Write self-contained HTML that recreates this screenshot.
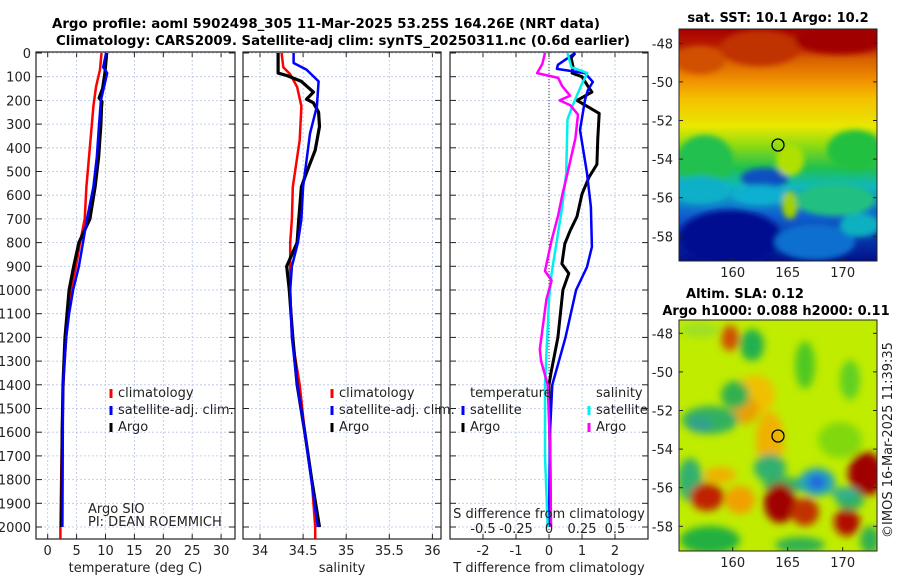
<!DOCTYPE html>
<html><head><meta charset="utf-8">
<style>
html,body{margin:0;padding:0;background:#fff;}
svg{display:block;font-family:"DejaVu Sans","Liberation Sans",sans-serif;}
.t{font-size:13px;fill:#222;}
.b{font-size:13px;font-weight:bold;fill:#000;}
</style></head>
<body>
<svg id="fig" width="900" height="580" viewBox="0 0 900 580" xmlns="http://www.w3.org/2000/svg">
<defs>
<filter id="blur3" x="-20%" y="-20%" width="140%" height="140%"><feGaussianBlur stdDeviation="3"/></filter>
<filter id="blur4" x="-30%" y="-30%" width="160%" height="160%"><feGaussianBlur stdDeviation="4"/></filter>
<linearGradient id="sstgrad" x1="0" y1="0" x2="0" y2="1">
<stop offset="0" stop-color="#a50000"/><stop offset="0.07" stop-color="#b81a00"/>
<stop offset="0.13" stop-color="#d86000"/><stop offset="0.22" stop-color="#f09000"/>
<stop offset="0.30" stop-color="#f5c000"/><stop offset="0.42" stop-color="#e8e800"/>
<stop offset="0.50" stop-color="#90dc10"/><stop offset="0.60" stop-color="#20c050"/>
<stop offset="0.68" stop-color="#10b8c0"/><stop offset="0.80" stop-color="#1060d0"/>
<stop offset="1" stop-color="#00108a"/>
</linearGradient>
<clipPath id="clipSST"><rect x="679" y="29" width="198" height="232"/></clipPath>
<clipPath id="clipSLA"><rect x="679" y="320" width="198" height="231"/></clipPath>
</defs>
<text class="b" x="52" y="28" textLength="548" lengthAdjust="spacingAndGlyphs">Argo profile: aoml 5902498_305 11-Mar-2025 53.25S 164.26E (NRT data)</text>
<text class="b" x="56" y="45" textLength="574" lengthAdjust="spacingAndGlyphs">Climatology: CARS2009. Satellite-adj clim: synTS_20250311.nc (0.6d earlier)</text>
<g id="panels"></g>
<g id="maps">
<text class="b" x="778" y="22" text-anchor="middle">sat. SST: 10.1 Argo: 10.2</text>
<g clip-path="url(#clipSST)">
<rect x="679" y="29" width="198" height="232" fill="url(#sstgrad)"/>
<g filter="url(#blur3)">
<ellipse cx="705" cy="160" rx="28" ry="25" fill="#20c050"/>
<ellipse cx="700" cy="190" rx="30" ry="14" fill="#10b0c8"/>
<ellipse cx="765" cy="178" rx="24" ry="10" fill="#1050c0"/>
<ellipse cx="760" cy="195" rx="28" ry="10" fill="#10b0d0"/>
<ellipse cx="790" cy="160" rx="14" ry="16" fill="#b0e000"/>
<ellipse cx="790" cy="205" rx="8" ry="14" fill="#a0d000"/>
<ellipse cx="855" cy="150" rx="28" ry="20" fill="#20c040"/>
<ellipse cx="835" cy="200" rx="40" ry="16" fill="#20c080"/>
<ellipse cx="730" cy="238" rx="52" ry="28" fill="#001090"/>
<ellipse cx="815" cy="242" rx="40" ry="18" fill="#1070d0"/>
<ellipse cx="860" cy="225" rx="20" ry="12" fill="#10b0c0"/>
<ellipse cx="760" cy="48" rx="40" ry="18" fill="#c03000"/>
<ellipse cx="840" cy="40" rx="45" ry="14" fill="#a00000"/>
<ellipse cx="700" cy="60" rx="25" ry="14" fill="#d05000"/>
</g>
</g>
<rect x="679" y="29" width="198" height="232" fill="none" stroke="#222" stroke-width="1"/>
<circle cx="778" cy="145" r="6" fill="none" stroke="#000" stroke-width="1.3"/>
<text class="b" x="745" y="298" text-anchor="middle">Altim. SLA: 0.12</text>
<text class="b" x="776" y="315" text-anchor="middle">Argo h1000: 0.088 h2000: 0.11</text>
<g clip-path="url(#clipSLA)">
<rect x="679" y="320" width="198" height="231" fill="#c0ec00"/>
<g filter="url(#blur4)">
<ellipse cx="700" cy="330" rx="20" ry="8" fill="#a0e020"/>
<ellipse cx="752" cy="345" rx="12" ry="16" fill="#20b050"/>
<ellipse cx="730" cy="338" rx="9" ry="13" fill="#d05000"/>
<ellipse cx="755" cy="395" rx="20" ry="20" fill="#f0c000"/>
<ellipse cx="770" cy="440" rx="14" ry="28" fill="#f0b000"/>
<ellipse cx="745" cy="410" rx="14" ry="14" fill="#e8a000"/>
<ellipse cx="735" cy="395" rx="14" ry="14" fill="#30b050"/>
<ellipse cx="710" cy="420" rx="28" ry="14" fill="#30b060"/>
<ellipse cx="700" cy="425" rx="12" ry="8" fill="#30a090"/>
<ellipse cx="805" cy="365" rx="10" ry="24" fill="#50c820"/>
<ellipse cx="850" cy="380" rx="10" ry="20" fill="#60d020"/>
<ellipse cx="840" cy="440" rx="22" ry="18" fill="#80d810"/>
<ellipse cx="690" cy="480" rx="12" ry="22" fill="#30b070"/>
<ellipse cx="770" cy="468" rx="16" ry="14" fill="#30b070"/>
<ellipse cx="785" cy="485" rx="22" ry="8" fill="#30b060"/>
<ellipse cx="720" cy="475" rx="16" ry="8" fill="#f0b000"/>
<ellipse cx="740" cy="500" rx="15" ry="14" fill="#f0a000"/>
<ellipse cx="707" cy="497" rx="17" ry="14" fill="#c02000"/>
<ellipse cx="780" cy="503" rx="16" ry="20" fill="#a00000"/>
<ellipse cx="805" cy="512" rx="14" ry="14" fill="#c03000"/>
<ellipse cx="847" cy="522" rx="13" ry="14" fill="#b01000"/>
<ellipse cx="866" cy="474" rx="18" ry="22" fill="#a00000"/>
<ellipse cx="850" cy="500" rx="14" ry="10" fill="#30b060"/>
<ellipse cx="817" cy="482" rx="18" ry="14" fill="#20a0c0"/>
<ellipse cx="817" cy="482" rx="8" ry="7" fill="#2060e0"/>
<ellipse cx="845" cy="493" rx="14" ry="6" fill="#30b090"/>
<ellipse cx="710" cy="540" rx="30" ry="14" fill="#20b040"/>
<ellipse cx="800" cy="545" rx="25" ry="8" fill="#30b050"/>
<ellipse cx="870" cy="540" rx="10" ry="14" fill="#30b050"/>
</g>
</g>
<rect x="679" y="320" width="198" height="231" fill="none" stroke="#222" stroke-width="1"/>
<circle cx="778" cy="436" r="6" fill="none" stroke="#000" stroke-width="1.3"/>
<text class="t" transform="translate(892,440) rotate(-90)" text-anchor="middle">©IMOS 16-Mar-2025 11:39:35</text>
</g>
</svg>
<script>
// ---- data ----
const pressureTicks = [0,100,200,300,400,500,600,700,800,900,1000,1100,1200,1300,1400,1500,1600,1700,1800,1900,2000];
const tempTicks = [0,5,10,15,20,25,30];
const salTicks = [34,34.5,35,35.5,36];
const salTickLabels = ["34","34.5","35","35.5","36"];
const tdiffTicks = [-2,-1,0,1,2];
const sdiffTickLabels = ["-0.5","-0.25","0","0.25","0.5"];
const sdiffTicks = [-0.5,-0.25,0,0.25,0.5];

const climTempP = [0,70,143,225,367,565,700,800,900,1000,1200,1400,1600,2000,2050];
const climTempV = [9.3,9.05,8.35,7.9,7.4,6.7,6.4,5.6,4.9,4.0,3.2,2.7,2.45,2.2,2.2];
const satTempP = [0,60,85,200,300,440,565,700,800,900,1000,1100,1200,1400,2000];
const satTempV = [10.1,9.6,10.3,9.2,8.9,8.5,7.9,6.8,6.1,5.4,4.4,3.7,3.2,2.65,2.55];
const argoTempP = [0,85,150,190,205,230,300,440,565,700,800,900,1000,1200,1400,1600,2000];
const argoTempV = [10.2,9.9,9.5,8.9,9.4,9.3,9.2,8.8,8.2,7.3,5.4,4.5,3.7,3.0,2.65,2.5,2.4];

const climSalP = [0,60,90,143,225,367,565,700,800,900,1000,1200,1400,1600,1800,2000,2050];
const climSalV = [34.25,34.27,34.35,34.43,34.48,34.46,34.38,34.37,34.35,34.35,34.35,34.37,34.46,34.52,34.6,34.64,34.64];
const satSalP = [0,42,70,120,225,340,565,700,800,900,1000,1200,1400,1600,2000];
const satSalV = [34.39,34.39,34.54,34.68,34.66,34.58,34.5,34.48,34.44,34.37,34.35,34.37,34.43,34.52,34.67];
const argoSalP = [0,85,95,120,165,195,210,250,310,410,505,565,700,800,900,1000,1100,1200,1400,1600,1800,2000];
const argoSalV = [34.21,34.21,34.31,34.48,34.62,34.54,34.62,34.68,34.69,34.64,34.54,34.48,34.45,34.43,34.31,34.34,34.36,34.38,34.43,34.52,34.6,34.69];

const satTdP = [0,50,67,85,122,156,198,325,507,650,818,903,1000,1200,1400,1600,2000];
const satTdV = [0.79,0.27,0.24,1.09,1.33,1.18,1.09,0.94,1.15,1.27,1.3,1.15,0.82,0.5,0.1,0.03,0.0];
const argoTdP = [0,20,60,85,100,140,165,200,220,255,360,470,525,595,690,750,805,890,930,1000,1200,1350,1400,1700,2000];
const argoTdV = [0.79,0.67,0.73,0.7,1.0,1.18,1.3,0.85,1.09,1.52,1.48,1.45,1.21,1.0,0.85,0.64,0.48,0.39,0.6,0.42,0.27,0.06,0.0,0.03,0.05];
const satSdP = [0,60,85,130,220,280,507,650,790,930,1040,1400,1700,2000];
const satSdV = [0.14,0.17,0.29,0.25,0.18,0.14,0.13,0.1,0.06,0.02,0.0,-0.03,-0.03,-0.01];
const argoSdP = [0,45,85,105,140,180,200,220,260,360,507,600,685,790,920,960,1040,1250,1300,1400,1700,2000];
const argoSdV = [-0.03,-0.05,-0.09,0.07,0.1,0.16,0.08,0.16,0.22,0.2,0.14,0.1,0.07,0.02,-0.03,0.02,-0.02,-0.07,-0.06,-0.01,0.01,0.015];

// ---- axes ----
const Y0 = 53, PY = 0.237;
function yP(p){ return Y0 + p*PY; }
function xT(v){ return 47.7 + v*5.78; }
function xS(v){ return 260 + (v-34)*86.2; }
function xTd(v){ return 549 + v*33; }
function xSd(v){ return 549 + v*132; }

const NS = "http://www.w3.org/2000/svg";
const root = document.getElementById('panels');
function mk(tag, attrs, parent){
  const e = document.createElementNS(NS, tag);
  for (const k in attrs) e.setAttribute(k, attrs[k]);
  (parent||root).appendChild(e);
  return e;
}
const TOP = 52, BOT = 539;
const panels = [
  {x0:36, x1:235, name:'temperature-panel', gx: tempTicks.map(xT), lab: tempTicks.map(String), lx: tempTicks.map(xT), xl:'temperature (deg C)'},
  {x0:243, x1:441, name:'salinity-panel', gx: salTicks.map(xS), lab: salTickLabels, lx: salTicks.map(xS), xl:'salinity'},
  {x0:450, x1:648, name:'difference-panel', gx: tdiffTicks.map(xTd), lab: tdiffTicks.map(String), lx: tdiffTicks.map(xTd), xl:'T difference from climatology'}
];
panels.forEach((pn, i) => {
  const g = mk('g', {});
  
  
  pn.g = g;
  pn.gx.forEach(x => {
    const l = mk('line', {x1:x, x2:x, y1:TOP, y2:BOT, stroke:'#b8c4e8', 'stroke-width':0.8, 'stroke-dasharray':'2,2'}, g);
    
    
    mk('line', {x1:x, x2:x, y1:BOT, y2:BOT-5, stroke:'#222'}, g);
    mk('line', {x1:x, x2:x, y1:TOP, y2:TOP+5, stroke:'#222'}, g);
  });
  pressureTicks.forEach(p => {
    const y = yP(p);
    const l = mk('line', {x1:pn.x0, x2:pn.x1, y1:y, y2:y, stroke:'#b8c4e8', 'stroke-width':0.8, 'stroke-dasharray':'2,2'}, g);
    
    
    mk('line', {x1:pn.x0, x2:pn.x0+6, y1:y, y2:y, stroke:'#222'}, g);
    mk('line', {x1:pn.x1, x2:pn.x1-6, y1:y, y2:y, stroke:'#222'}, g);
  });
  const fr = mk('rect', {x:pn.x0, y:TOP, width:pn.x1-pn.x0, height:BOT-TOP, fill:'none', stroke:'#222', 'stroke-width':1.2}, g);
  
  
  pn.lab.forEach((s, k) => {
    const t = mk('text', {x:pn.lx[k], y:555, 'text-anchor':'middle', class:'t'}, g);
    t.textContent = s;
    
    
  });
  const xl = mk('text', {x:(pn.x0+pn.x1)/2, y:572, 'text-anchor':'middle', class:'t'}, g);
  xl.textContent = pn.xl;
  
  
});
pressureTicks.forEach(p => {
  const t = mk('text', {x:31, y:yP(p)+5, 'text-anchor':'end', class:'t'});
  t.textContent = String(p);
  
  
});
const zl = mk('line', {x1:xTd(0), x2:xTd(0), y1:TOP, y2:BOT, stroke:'#333', 'stroke-width':1, 'stroke-dasharray':'1,2'}, panels[2].g);



function series(P, V, fx, color, w, name, parent){
  const d = P.map((p,k) => (k?'L':'M') + fx(V[k]).toFixed(1) + ',' + yP(p).toFixed(1)).join(' ');
  const e = mk('path', {d:d, fill:'none', stroke:color, 'stroke-width':w, 'stroke-linejoin':'round'}, parent);
  
  
}
series(climTempP, climTempV, xT, '#ff0000', 2.5, 'climatology-temperature-line', panels[0].g);
series(argoTempP, argoTempV, xT, '#000000', 3.2, 'argo-temperature-line', panels[0].g);
series(satTempP, satTempV, xT, '#0000ff', 2.5, 'satellite-temperature-line', panels[0].g);
series(climSalP, climSalV, xS, '#ff0000', 2.5, 'climatology-salinity-line', panels[1].g);
series(argoSalP, argoSalV, xS, '#000000', 3.2, 'argo-salinity-line', panels[1].g);
series(satSalP, satSalV, xS, '#0000ff', 2.5, 'satellite-salinity-line', panels[1].g);
series(argoTdP, argoTdV, xTd, '#000000', 3, 'argo-t-difference-line', panels[2].g);
series(satTdP, satTdV, xTd, '#0000ff', 2.5, 'satellite-t-difference-line', panels[2].g);
series(satSdP, satSdV, xSd, '#00f0f0', 2.5, 'satellite-s-difference-line', panels[2].g);
series(argoSdP, argoSdV, xSd, '#ff00ff', 2.5, 'argo-s-difference-line', panels[2].g);

function legendEntry(x, y, color, label, parent){
  const g = mk('g', {}, parent);
  
  
  if (color) mk('line', {x1:x, x2:x, y1:y-8, y2:y+1, stroke:color, 'stroke-width':3}, g);
  const t = mk('text', {x:x+7, y:y, class:'t'}, g);
  t.textContent = label;
}
[[111,'#ff0000','climatology'],[111,'#0000ff','satellite-adj. clim.'],[111,'#000','Argo']].forEach((e,k)=>legendEntry(e[0], 397+k*17, e[1], e[2], panels[0].g));
[[332,'#ff0000','climatology'],[332,'#0000ff','satellite-adj. clim.'],[332,'#000','Argo']].forEach((e,k)=>legendEntry(e[0], 397+k*17, e[1], e[2], panels[1].g));
legendEntry(463, 397, null, 'temperature', panels[2].g);
legendEntry(463, 414, '#0000ff', 'satellite', panels[2].g);
legendEntry(463, 431, '#000', 'Argo', panels[2].g);
legendEntry(589, 397, null, 'salinity', panels[2].g);
legendEntry(589, 414, '#00f0f0', 'satellite', panels[2].g);
legendEntry(589, 431, '#ff00ff', 'Argo', panels[2].g);

const sdt = mk('text', {x:549, y:518, 'text-anchor':'middle', class:'t'}, panels[2].g);
sdt.textContent = 'S difference from climatology';


sdiffTicks.forEach((v,k) => {
  const t = mk('text', {x:xSd(v), y:533, 'text-anchor':'middle', class:'t'}, panels[2].g);
  t.textContent = sdiffTickLabels[k];
  
  
});
const c1 = mk('text', {x:88, y:513, class:'t', 'font-size':'11'}, panels[0].g);
c1.textContent = 'Argo SIO';


const c2 = mk('text', {x:88, y:526, class:'t', 'font-size':'11'}, panels[0].g);
c2.textContent = 'PI: DEAN ROEMMICH';



const mapLat = [-48,-50,-52,-54,-56,-58];
const mapLon = [160,165,170];
const mapG = document.getElementById('maps');
[[43.3,19.3,261],[333.3,19.3,551]].forEach(m => {
  mapLat.forEach(la => {
    const y = m[0] + (-48-la)*m[1];
    mk('line', {x1:679, x2:683, y1:y, y2:y, stroke:'#222'}, mapG);
    mk('line', {x1:877, x2:873, y1:y, y2:y, stroke:'#222'}, mapG);
    const t = mk('text', {x:673, y:y+5, 'text-anchor':'end', class:'t'}, mapG);
    t.textContent = String(la);
    
    
  });
  mapLon.forEach(lo => {
    const x = 732.7 + (lo-160)*11;
    mk('line', {x1:x, x2:x, y1:m[2], y2:m[2]-4, stroke:'#222'}, mapG);
    const t = mk('text', {x:x, y:m[2]+16, 'text-anchor':'middle', class:'t'}, mapG);
    t.textContent = String(lo);
    
    
  });
});
</script>
</body></html>
